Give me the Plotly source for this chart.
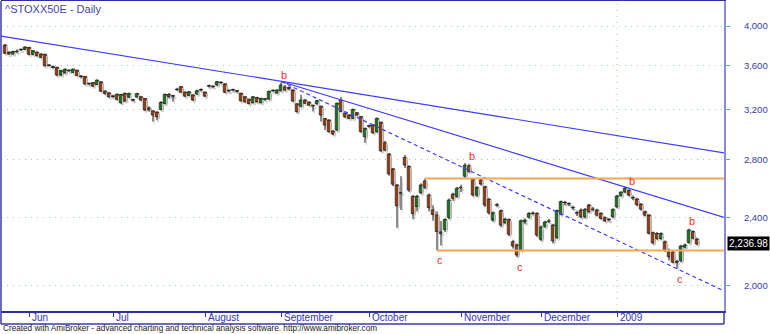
import numpy as np
import pandas as pd
import plotly.graph_objects as go

# ---------------- data ----------------
holidays = ["2008-08-15", "2008-08-25", "2008-12-24", "2008-12-25", "2008-12-26",
            "2008-12-31", "2009-01-01"]
dates = [d.strftime("%Y-%m-%d") for d in pd.bdate_range("2008-05-23", "2009-01-30")
         if d.strftime("%Y-%m-%d") not in holidays]

opens = [3802, 3730, 3712, 3735, 3752, 3758, 3777, 3710, 3730, 3712, 3710, 3605, 3590, 3582, 3510,
         3530, 3553, 3535, 3555, 3498, 3497, 3428, 3440, 3422, 3447, 3362, 3347, 3320, 3335, 3260,
         3343, 3310, 3285, 3310, 3312, 3297, 3215, 3190, 3180, 3202, 3254, 3334, 3320, 3375, 3403,
         3353, 3325, 3328, 3337, 3372, 3353, 3410, 3405, 3418, 3440, 3428, 3368, 3372, 3365, 3343,
         3312, 3290, 3260, 3305, 3260, 3290, 3292, 3365, 3345, 3366, 3400, 3395, 3372, 3250, 3230,
         3284, 3266, 3236, 3250, 3230, 3125, 3113, 3023, 3031, 3284, 3170, 3155, 3127, 3174, 3141,
         2978, 3065, 3072, 3018, 3094, 2930, 2844, 2733, 2618, 2560, 2818, 2750, 2540, 2472, 2565,
         2646, 2549, 2450, 2416, 2300, 2325, 2400, 2555, 2540, 2600, 2680, 2755, 2658, 2549, 2653,
         2606, 2520, 2384, 2484, 2445, 2368, 2388, 2250, 2231, 2201, 2372, 2402, 2428, 2427, 2265,
         2345, 2375, 2353, 2275, 2423, 2498, 2490, 2465, 2428, 2449, 2405, 2482, 2455, 2449, 2427,
         2399, 2388, 2405, 2470, 2545, 2570, 2580, 2530, 2522, 2487, 2438, 2416, 2305, 2300, 2270,
         2250, 2188, 2189, 2130, 2140, 2218, 2245, 2312, 2266]
highs = [3815, 3740, 3745, 3760, 3770, 3790, 3785, 3750, 3740, 3720, 3715, 3615, 3600, 3590, 3560,
         3572, 3565, 3572, 3560, 3510, 3500, 3440, 3445, 3470, 3452, 3370, 3355, 3330, 3340, 3338,
         3350, 3350, 3295, 3348, 3320, 3300, 3230, 3195, 3185, 3275, 3340, 3345, 3330, 3392, 3410,
         3360, 3362, 3335, 3375, 3388, 3360, 3422, 3415, 3455, 3452, 3435, 3378, 3385, 3372, 3348,
         3318, 3296, 3318, 3312, 3305, 3300, 3368, 3378, 3380, 3440, 3418, 3405, 3380, 3258, 3330,
         3292, 3272, 3245, 3285, 3235, 3130, 3120, 3030, 3262, 3310, 3178, 3162, 3210, 3180, 3148,
         3050, 3075, 3080, 3135, 3100, 2945, 2850, 2740, 2625, 2680, 2836, 2760, 2550, 2550, 2630,
         2664, 2560, 2480, 2440, 2378, 2395, 2525, 2565, 2605, 2620, 2775, 2770, 2665, 2610, 2665,
         2612, 2530, 2440, 2495, 2452, 2398, 2395, 2262, 2240, 2388, 2395, 2435, 2440, 2435, 2350,
         2380, 2392, 2360, 2452, 2512, 2510, 2500, 2478, 2445, 2460, 2462, 2490, 2470, 2458, 2435,
         2408, 2398, 2460, 2550, 2575, 2608, 2590, 2545, 2530, 2495, 2445, 2422, 2312, 2310, 2308,
         2258, 2210, 2200, 2145, 2232, 2240, 2330, 2320, 2275]
lows = [3712, 3705, 3705, 3720, 3745, 3752, 3700, 3700, 3690, 3672, 3590, 3590, 3570, 3500, 3500,
        3525, 3540, 3530, 3500, 3480, 3420, 3415, 3400, 3418, 3355, 3330, 3305, 3300, 3280, 3250,
        3268, 3300, 3270, 3305, 3275, 3190, 3185, 3100, 3110, 3195, 3245, 3300, 3270, 3365, 3348,
        3310, 3318, 3275, 3330, 3360, 3310, 3395, 3390, 3410, 3428, 3345, 3352, 3360, 3348, 3270,
        3262, 3245, 3255, 3262, 3255, 3275, 3285, 3355, 3340, 3360, 3365, 3370, 3268, 3175, 3222,
        3250, 3232, 3185, 3245, 3100, 3031, 3010, 2990, 3025, 3180, 3130, 3120, 3120, 3148, 3010,
        2930, 3050, 3000, 3010, 2860, 2865, 2685, 2610, 2336, 2449, 2740, 2570, 2390, 2440, 2555,
        2590, 2440, 2380, 2199, 2228, 2310, 2390, 2510, 2530, 2570, 2670, 2705, 2540, 2535, 2615,
        2470, 2420, 2375, 2470, 2340, 2360, 2285, 2210, 2160, 2195, 2360, 2395, 2415, 2280, 2255,
        2335, 2365, 2240, 2268, 2415, 2480, 2475, 2450, 2410, 2395, 2395, 2430, 2440, 2408, 2388,
        2372, 2375, 2398, 2462, 2538, 2562, 2540, 2515, 2475, 2445, 2408, 2295, 2235, 2262, 2262,
        2190, 2140, 2125, 2095, 2130, 2210, 2240, 2265, 2230]
closes = [3720, 3712, 3738, 3740, 3758, 3782, 3710, 3745, 3695, 3680, 3598, 3600, 3582, 3510, 3550,
          3565, 3550, 3565, 3505, 3495, 3428, 3430, 3408, 3462, 3362, 3342, 3312, 3315, 3290, 3333,
          3275, 3340, 3282, 3340, 3284, 3197, 3200, 3155, 3141, 3262, 3334, 3313, 3317, 3378, 3353,
          3318, 3357, 3284, 3366, 3375, 3318, 3407, 3402, 3448, 3438, 3353, 3365, 3374, 3362, 3277,
          3268, 3254, 3312, 3268, 3297, 3292, 3360, 3368, 3372, 3418, 3373, 3385, 3275, 3183, 3284,
          3256, 3240, 3232, 3278, 3155, 3072, 3018, 2999, 3255, 3186, 3141, 3127, 3202, 3155, 3018,
          3045, 3062, 3010, 3126, 2868, 2874, 2697, 2624, 2477, 2565, 2761, 2583, 2426, 2540, 2618,
          2602, 2465, 2420, 2313, 2310, 2388, 2515, 2527, 2595, 2598, 2760, 2715, 2549, 2600, 2625,
          2482, 2431, 2431, 2480, 2353, 2390, 2296, 2225, 2172, 2380, 2384, 2427, 2426, 2291, 2340,
          2372, 2378, 2256, 2445, 2504, 2496, 2488, 2462, 2430, 2405, 2453, 2438, 2452, 2416, 2395,
          2380, 2386, 2453, 2542, 2568, 2595, 2548, 2528, 2484, 2455, 2416, 2302, 2244, 2270, 2300,
          2201, 2162, 2131, 2135, 2225, 2231, 2322, 2272, 2236.98]

month_starts = ["2008-06", "2008-07", "2008-08", "2008-09", "2008-10", "2008-11", "2008-12", "2009-01"]
month_labels = ["Jun", "Jul", "August", "September", "October", "November", "December", "2009"]

price_ticks = [2000, 2400, 2800, 3200, 3600, 4000]
price_tick_labels = ["2,000", "2,400", "2,800", "3,200", "3,600", "4,000"]

# trend lines: (start date, start price) -> (end date, end price), extended to the edge
trend_start_dates = ["2008-05-23", "2008-09-01", "2008-09-01"]
trend_start_prices = [3888, 3450, 3450]
trend_end_dates = ["2009-01-30", "2009-01-30", "2009-01-30"]
trend_end_prices = [2885, 2455, 2042]
trend_extend_left = [True, False, False]
trend_dash = ["solid", "solid", "4px,3px"]

level_start_dates = ["2008-10-21", "2008-10-24"]
level_prices = [2664, 2199]

wave_dates = ["2008-09-01", "2008-10-24", "2008-11-05", "2008-11-21", "2009-01-07", "2009-01-23", "2009-01-28"]
wave_labels = ["b", "c", "b", "c", "b", "c", "b"]

# ---------------- figure ----------------
idx = list(range(len(dates)))
pos = {d: i for i, d in enumerate(dates)}
X0, X1 = -1.0, 179.75
Y0, Y1 = 1870.8, 4276.0
FONT = "Liberation Sans"
UP, DOWN = "#28c028", "#ff6010"
BW = 0.86


def wick_xy(xs, lo, hi):
    wx, wy = [], []
    for x, l, h in zip(xs, lo, hi):
        wx += [x, x, None]
        wy += [l, h, None]
    return wx, wy


def body(mult, xs, color_list, line_color, offset, lw):
    base = [min(o, c) * mult for o, c in zip(opens, closes)]
    top = [max(o, c) * mult for o, c in zip(opens, closes)]
    length = [max(t - b, b * 0.0015) for b, t in zip(base, top)]
    return go.Bar(x=xs, y=length, base=base, width=BW, offset=offset,
                  marker=dict(color=color_list, line=dict(color=line_color, width=lw)),
                  hoverinfo="skip")


fig = go.Figure()

# soft grey drop shadow (AmiBroker style), offset right/down
sh = 0.994
wx, wy = wick_xy([i + 0.35 for i in idx], [v * sh for v in lows], [v * sh for v in highs])
fig.add_trace(go.Scatter(x=wx, y=wy, mode="lines", line=dict(color="#d0d0d0", width=1),
                         hoverinfo="skip"))
fig.add_trace(body(sh, idx, ["#d0d0d0"] * len(idx), "#d0d0d0", -BW / 2 + 0.35, 0))

# candles
wx, wy = wick_xy(idx, lows, highs)
fig.add_trace(go.Scatter(x=wx, y=wy, mode="lines", line=dict(color="#1a1a1a", width=1),
                         hoverinfo="skip"))
colors = [UP if c >= o else DOWN for o, c in zip(opens, closes)]
fig.add_trace(body(1.0, idx, colors, "#1a1a1a", -BW / 2, 0.8))

for sd, sp, ed, ep, ext, dash in zip(trend_start_dates, trend_start_prices, trend_end_dates,
                                     trend_end_prices, trend_extend_left, trend_dash):
    i0, i1 = pos[sd], pos[ed]
    k = (np.log10(ep) - np.log10(sp)) / (i1 - i0)
    xa = X0 if ext else i0
    xs = [xa, X1]
    ys = [10 ** (np.log10(sp) + k * (x - i0)) for x in xs]
    fig.add_trace(go.Scatter(x=xs, y=ys, mode="lines", hoverinfo="skip",
                             line=dict(color="#3c3cff", width=1.2, dash=dash)))

for sd, lp in zip(level_start_dates, level_prices):
    fig.add_trace(go.Scatter(x=[pos[sd], X1], y=[lp, lp], mode="lines", hoverinfo="skip",
                             line=dict(color="#ffa650", width=2)))

tick_idx = [next(i for i, d in enumerate(dates) if d.startswith(m)) for m in month_starts]

annotations = []
for d, t in zip(wave_dates, wave_labels):
    i = pos[d]
    if t == "b":
        annotations.append(dict(x=i, y=np.log10(highs[i]), xref="x", yref="y", text=t,
                                showarrow=False, yanchor="bottom", xanchor="center", xshift=3, yshift=0,
                                font=dict(color="#ff3030", size=11, family=FONT)))
    else:
        annotations.append(dict(x=i, y=np.log10(lows[i]), xref="x", yref="y", text=t,
                                showarrow=False, yanchor="top", xanchor="center", xshift=3, yshift=-2,
                                font=dict(color="#ff3030", size=11, family=FONT)))

for ti, lab in zip(tick_idx, month_labels):
    annotations.append(dict(x=ti, y=-0.0215, xref="x", yref="paper", text=lab, showarrow=False,
                            xanchor="left", yanchor="middle", xshift=1,
                            font=dict(color="#3434b0", size=10, family=FONT)))

annotations.append(dict(x=0, y=1, xref="paper", yref="paper", text="^STOXX50E - Daily",
                        showarrow=False, xanchor="left", yanchor="top", xshift=2, yshift=0,
                        font=dict(color="#4545a8", size=11, family=FONT)))
annotations.append(dict(x=1, y=np.log10(closes[-1]), xref="paper", yref="y",
                        text=f"{closes[-1]:,.2f}", showarrow=False, xanchor="left", yanchor="middle",
                        xshift=3, bgcolor="black", borderpad=1,
                        font=dict(color="white", size=10, family=FONT)))
annotations.append(dict(x=0, y=-0.058, xref="paper", yref="paper",
                        text="Created with AmiBroker - advanced charting and technical analysis software. http://www.amibroker.com",
                        showarrow=False, xanchor="left", yanchor="middle", xshift=0,
                        font=dict(color="#202020", size=8.2, family=FONT)))

shapes = [
    dict(type="line", xref="x", yref="paper", x0=pos["2009-01-02"], x1=pos["2009-01-02"], y0=0, y1=1,
         line=dict(color="#90dc90", width=1, dash="1px,5px"), layer="below"),
    dict(type="line", xref="paper", yref="paper", x0=0, x1=0, y0=-0.042, y1=1,
         line=dict(color="#3a3ab0", width=1.5)),
    dict(type="line", xref="paper", yref="paper", x0=0, x1=1, y0=-0.042, y1=-0.042,
         line=dict(color="#3a3ab0", width=1.5)),
    dict(type="line", xref="paper", yref="paper", x0=1, x1=1, y0=-0.042, y1=0,
         line=dict(color="#3a3ab0", width=1.5)),
]

fig.update_layout(
    width=770, height=334, margin=dict(l=1, r=46, t=1, b=23, autoexpand=False),
    paper_bgcolor="white", plot_bgcolor="white", showlegend=False,
    barmode="overlay",
    annotations=annotations, shapes=shapes,
    xaxis=dict(range=[X0, X1], showgrid=False, zeroline=False, automargin=False,
               tickvals=tick_idx, ticktext=[""] * len(tick_idx), ticks="outside", ticklen=4,
               tickcolor="#3030a0", showline=True, linecolor="#3030a0", linewidth=1.5, mirror=True),
    yaxis=dict(type="log", side="right", range=[np.log10(Y0), np.log10(Y1)], automargin=False,
               tickvals=price_ticks, ticktext=price_tick_labels, showgrid=True,
               gridcolor="#90dc90", griddash="1px,5px", gridwidth=1, ticks="outside", ticklen=4,
               tickcolor="#60c060", tickfont=dict(color="#3a3aa8", size=9.5, family=FONT),
               ticklabelstandoff=12,
               showline=True, linecolor="#8a8ad8", linewidth=2, zeroline=False),
)

fig.write_html("out.html")
